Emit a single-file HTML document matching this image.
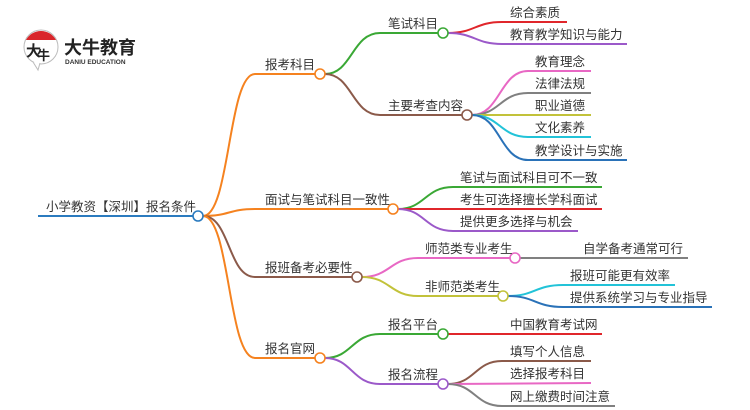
<!DOCTYPE html>
<html><head><meta charset="utf-8"><style>
html,body{margin:0;padding:0;background:#fff;}
svg{display:block;}
text{font-family:"Liberation Sans","Noto Sans CJK SC",sans-serif;font-size:12.5px;fill:#333;}
</style></head><body>
<svg width="750" height="410" viewBox="0 0 750 410" xmlns="http://www.w3.org/2000/svg">
<!-- logo -->
<circle cx="41" cy="47" r="17" fill="#fff" stroke="#bbb" stroke-width="1"/>
<path d="M26 40 A17 17 0 0 1 56 40 Z" fill="#d9262b"/>
<path d="M33 62 L38 70 L40 63" fill="#fff" stroke="#bbb" stroke-width="1"/>
<text x="26" y="56" style="font-size:15px;fill:#222;font-weight:bold">大</text>
<text x="37" y="60" style="font-size:13px;fill:#222;font-weight:bold">牛</text>
<text x="64" y="54" style="font-size:18px;font-weight:bold;fill:#222">大牛教育</text>
<text x="65" y="64" style="font-size:6.5px;fill:#333;font-weight:bold">DANIU EDUCATION</text>

<g fill="none" stroke-width="2">
<path d="M38 216 L194 216" stroke="#2b7bbf"/>
<path d="M203 216 C230 216 228 74 255 74 L316 74" stroke="#f5821f"/>
<path d="M203 216 C230 216 228 209 255 209 L389 209" stroke="#f5821f"/>
<path d="M203 216 C230 216 228 277 255 277 L353 277" stroke="#8b5a4a"/>
<path d="M203 216 C230 216 228 358 255 358 L316 358" stroke="#f5821f"/>
<path d="M325 74 C352 74 352 33 380 33 L439 33" stroke="#3aa835"/>
<path d="M325 74 C352 74 352 115 380 115 L463 115" stroke="#8b5a4a"/>
<path d="M448 33 C475 33 475 22 502 22 L567 22" stroke="#e0262b"/>
<path d="M448 33 C475 33 475 44 502 44 L627 44" stroke="#9b59c9"/>
<path d="M472 115 C500 115 500 71 528 71 L591 71" stroke="#e868c4"/>
<path d="M472 115 C500 115 500 93 528 93 L591 93" stroke="#808080"/>
<path d="M472 115 L591 115" stroke="#c2c23a"/>
<path d="M472 115 C500 115 500 137 528 137 L591 137" stroke="#22c3d8"/>
<path d="M472 115 C500 115 500 160 528 160 L627 160" stroke="#2a72b8"/>
<path d="M398 209 C425 209 425 187 453 187 L602 187" stroke="#3aa835"/>
<path d="M398 209 L602 209" stroke="#e0262b"/>
<path d="M398 209 C425 209 425 231 453 231 L578 231" stroke="#9b59c9"/>
<path d="M362 277 C390 277 390 258 418 258 L511 258" stroke="#e868c4"/>
<path d="M362 277 C390 277 390 296 418 296 L499 296" stroke="#c2c23a"/>
<path d="M520 258 L688 258" stroke="#808080"/>
<path d="M508 296 C535 296 535 285 563 285 L675 285" stroke="#22c3d8"/>
<path d="M508 296 C535 296 535 307 563 307 L712 307" stroke="#2a72b8"/>
<path d="M325 358 C352 358 352 334 380 334 L439 334" stroke="#3aa835"/>
<path d="M325 358 C352 358 352 384 380 384 L439 384" stroke="#9b59c9"/>
<path d="M448 334 L602 334" stroke="#e0262b"/>
<path d="M448 384 C475 384 475 361 502 361 L591 361" stroke="#8b5a4a"/>
<path d="M448 384 L591 383" stroke="#e868c4"/>
<path d="M448 384 C475 384 475 406 502 406 L615 406" stroke="#808080"/>
</g>
<g fill="#fff" stroke-width="1.6">
<circle cx="198" cy="216" r="5" stroke="#2b7bbf"/>
<circle cx="320" cy="74" r="5" stroke="#f5821f"/>
<circle cx="393" cy="209" r="5" stroke="#f5821f"/>
<circle cx="357" cy="277" r="5" stroke="#8b5a4a"/>
<circle cx="320" cy="358" r="5" stroke="#f5821f"/>
<circle cx="443" cy="33" r="5" stroke="#3aa835"/>
<circle cx="467" cy="115" r="5" stroke="#8b5a4a"/>
<circle cx="515" cy="258" r="5" stroke="#e868c4"/>
<circle cx="503" cy="296" r="5" stroke="#c2c23a"/>
<circle cx="443" cy="334" r="5" stroke="#3aa835"/>
<circle cx="443" cy="384" r="5" stroke="#9b59c9"/>
</g>
<text x="46" y="211">小学教资【深圳】报名条件</text>
<text x="265" y="69">报考科目</text>
<text x="265" y="204">面试与笔试科目一致性</text>
<text x="265" y="272">报班备考必要性</text>
<text x="265" y="353">报名官网</text>
<text x="388" y="28">笔试科目</text>
<text x="388" y="110">主要考查内容</text>
<text x="510" y="17">综合素质</text>
<text x="510" y="39">教育教学知识与能力</text>
<text x="535" y="66">教育理念</text>
<text x="535" y="88">法律法规</text>
<text x="535" y="110">职业道德</text>
<text x="535" y="132">文化素养</text>
<text x="535" y="155">教学设计与实施</text>
<text x="460" y="182">笔试与面试科目可不一致</text>
<text x="460" y="204">考生可选择擅长学科面试</text>
<text x="460" y="226">提供更多选择与机会</text>
<text x="425" y="253">师范类专业考生</text>
<text x="425" y="291">非师范类考生</text>
<text x="583" y="253">自学备考通常可行</text>
<text x="570" y="280">报班可能更有效率</text>
<text x="570" y="302">提供系统学习与专业指导</text>
<text x="388" y="329">报名平台</text>
<text x="388" y="379">报名流程</text>
<text x="510" y="329">中国教育考试网</text>
<text x="510" y="356">填写个人信息</text>
<text x="510" y="378">选择报考科目</text>
<text x="510" y="401">网上缴费时间注意</text>
</svg>
</body></html>
